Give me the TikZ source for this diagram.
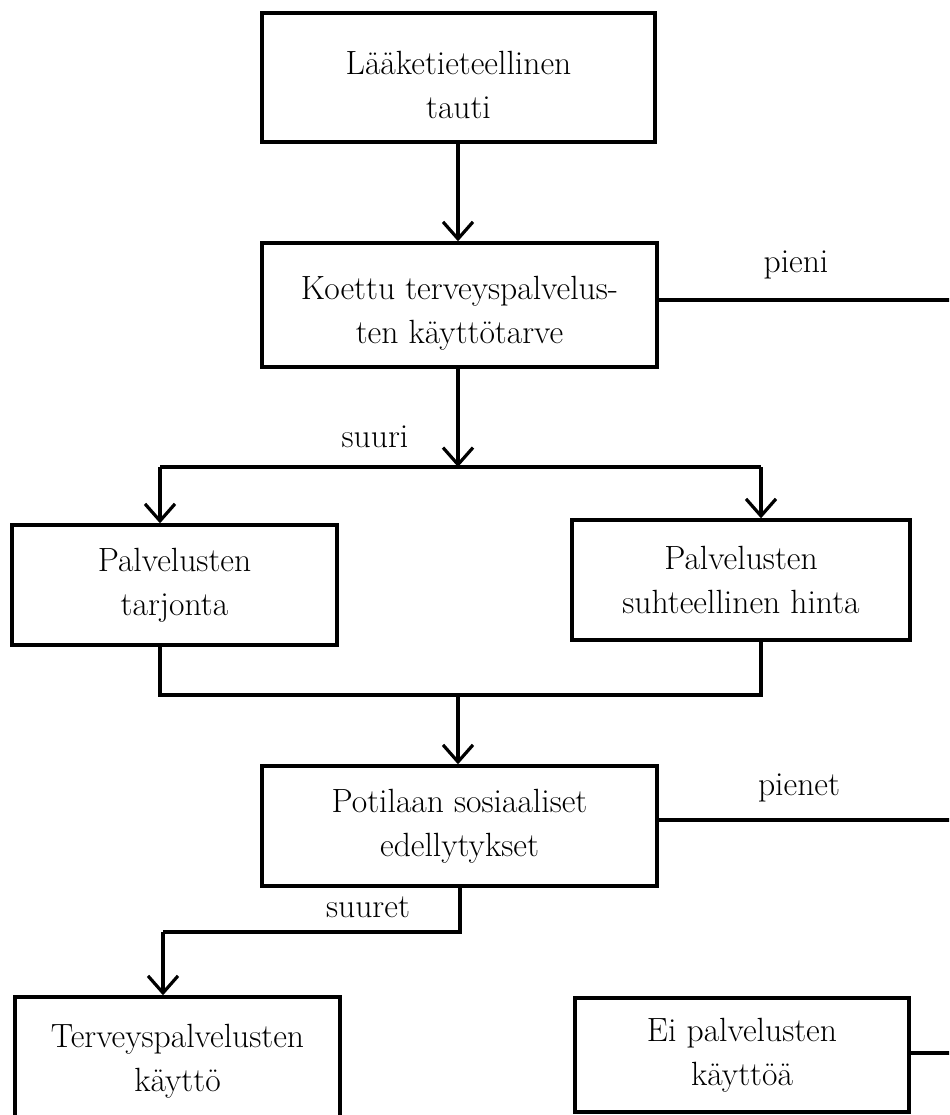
\documentclass[tikz,border=0pt]{standalone}
\usetikzlibrary{arrows.meta}
\begin{document}
\begin{tikzpicture}[x=0.5pt,y=-0.5pt,
  txt/.style={font=\fontsize{16.8pt}{22pt}\selectfont},
  box/.style={txt,draw,line width=1.7pt,inner sep=0pt,align=center},
  conn/.style={line width=1.6pt},
  arr/.style={conn,-{Straight Barb[length=8.5pt,width=15pt,line width=1.6pt]}},
  lbl/.style={txt,inner sep=0pt}]
\useasboundingbox (0,0) rectangle (949,1115);
\clip (0,0) rectangle (949,1115);
\fill[white] (0,0) rectangle (949,1115);

\node[box,minimum width=196.5pt,minimum height=64.5pt] (b1) at (458.5,77.5) {\rule{0pt}{19pt}Lääketieteellinen\\tauti};
\node[box,minimum width=197.5pt,minimum height=62pt] (b2) at (459.5,305) {\rule{0pt}{19.5pt}Koettu terveyspalvelus-\\ten käyttötarve};
\node[box,minimum width=162.5pt,minimum height=60pt] (b3) at (174.5,585) {Palvelusten\\tarjonta};
\node[box,minimum width=169pt,minimum height=60pt] (b4) at (741,580) {Palvelusten\\suhteellinen hinta};
\node[box,minimum width=197.5pt,minimum height=60pt] (b5) at (459.5,826) {Potilaan sosiaaliset\\edellytykset};
\node[box,minimum width=162.5pt,minimum height=64pt] (b6) at (177.5,1061) {Terveyspalvelusten\\käyttö};
\node[box,minimum width=167pt,minimum height=57pt] (b7) at (742,1055) {Ei palvelusten\\käyttöä};

\coordinate (j1) at (458,467);
\coordinate (jl) at (160,467);
\coordinate (jr) at (761,467);
\coordinate (k1) at (458,695);
\coordinate (kl) at (160,695);
\coordinate (kr) at (761,695);
\coordinate (m1) at (460,932);
\coordinate (ml) at (163,932);
\coordinate (e1) at (955,300);
\coordinate (e2) at (955,820);
\coordinate (e3) at (955,1053);

\draw[arr] (b1.south -| 458,0) -- (b2.north -| 458,0);
\draw[conn] (b2.east |- e1) -- (e1);
\node[lbl] (l1) at (796,265) {pieni};

\draw[arr] (b2.south -| j1) -- (j1);
\node[lbl] (l2) at (375,437) {suuri};
\draw[conn] (jl) -- (jr);
\draw[arr] (jl) -- (b3.north -| jl);
\draw[arr] (jr) -- (b4.north -| jr);

\draw[conn] (b3.south -| kl) -- (kl) -- (kr) -- (b4.south -| kr);
\draw[arr] (k1) -- (b5.north -| k1);

\draw[conn] (b5.east |- e2) -- (e2);
\node[lbl] (l3) at (799,788) {pienet};

\draw[conn] (b5.south -| m1) -- (m1) -- (ml);
\draw[arr] (ml) -- (b6.north -| ml);
\node[lbl] (l4) at (368,907) {suuret};

\draw[conn] (b7.east |- e3) -- (e3);
\end{tikzpicture}
\end{document}
